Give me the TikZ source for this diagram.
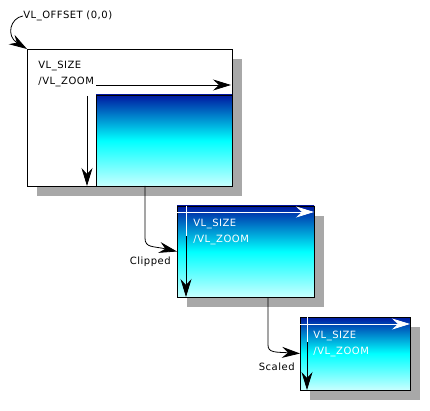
\documentclass[tikz,border=0pt]{standalone}
\usepackage{fontspec}
\setmainfont[LetterSpace=5]{DejaVu Sans}
\usetikzlibrary{arrows.meta,calc,shadows}
\definecolor{deepblue}{RGB}{0,24,160}
\definecolor{palecyan}{RGB}{200,255,255}
\definecolor{shadegray}{RGB}{168,168,168}
\tikzset{
	sheet/.style={draw,inner sep=0,outer sep=0,drop shadow={shadow xshift=10pt,shadow yshift=-10pt,opacity=1,fill=shadegray,draw=none}},
	blank/.style={sheet,fill=white},
	grad/.style={draw,inner sep=0,outer sep=0,top color=deepblue,bottom color=palecyan,middle color=cyan},
	gradsheet/.style={sheet,top color=deepblue,bottom color=palecyan,middle color=cyan},
	caption/.style={inner sep=0,align=left,font=\fontsize{10}{15.5}\selectfont},
	bigtip/.style={-{Stealth[length=18pt,width=11pt,inset=6pt]}},
	conn/.style={bigtip,color=black}
}
\begin{document}
\begin{tikzpicture}[x=1pt,y=-1pt,line width=0.8pt]
	\useasboundingbox (0,0) rectangle (430,411);
	%%% full image with offset
	\node[blank,minimum width=205pt,minimum height=137pt,anchor=north west] (frame) at (27,49) {};
	\node[grad,minimum width=136pt,minimum height=91pt,anchor=south east] (view) at (frame.south east) {};
	\node[caption,anchor=north west] (size1) at (38,61) {VL\_SIZE\\/VL\_ZOOM};
	\node[caption,anchor=west] (offset) at (23,16) {VL\_OFFSET (0,0)};
	\draw[conn] (offset.west) .. controls (10,18) and (6,36) .. (frame.north west);
	\draw[bigtip] ($(view.north west)+(0,-10)$) -- ($(view.north east)+(-1,-10)$);
	\draw[bigtip] ($(view.north west)+(-9,1)$) -- ($(view.south west)+(-9,0)$);
	
	%%% clipped
	\node[gradsheet,minimum width=137pt,minimum height=91pt,anchor=north west] (clip) at (177,206) {};
	\node[caption,anchor=north west,white] (size2) at (193,219) {VL\_SIZE\\/VL\_ZOOM};
	\draw[white,bigtip] ($(clip.north west)+(0,6)$) -- ($(clip.north east)+(0,6)$);
	\draw[white] ($(clip.north west)+(9,0)$) -- ($(clip.north west)+(9,30)$);
	\draw[bigtip] ($(clip.north west)+(9,30)$) -- ($(clip.south west)+(9,0)$);
	\coordinate (clipfrom) at ($(frame.south west)+(118,0)$);
	\draw[conn] (clipfrom) -- ($(clipfrom)+(0,52)$) .. controls ($(clipfrom)+(0,62)$) and ($(clipfrom)+(8,60)$) .. (clip.west);
	\node[caption,anchor=north east] (cliplabel) at ($(clip.west)+(-6,5)$) {Clipped};
	
	%%% scaled
	\node[gradsheet,minimum width=110pt,minimum height=73pt,anchor=north west] (scaled) at (300,317) {};
	\node[caption,anchor=north west,white] (size3) at (313,331) {VL\_SIZE\\/VL\_ZOOM};
	\draw[white,bigtip] ($(scaled.north west)+(0,7)$) -- ($(scaled.north east)+(0,7)$);
	\draw[white] ($(scaled.north west)+(7,0)$) -- ($(scaled.north west)+(7,25)$);
	\draw[bigtip] ($(scaled.north west)+(7,25)$) -- ($(scaled.south west)+(7,0)$);
	\coordinate (scalefrom) at ($(clip.south west)+(91,0)$);
	\draw[conn] (scalefrom) -- ($(scalefrom)+(0,48)$) .. controls ($(scalefrom)+(0,56)$) and ($(scalefrom)+(8,55)$) .. (scaled.west);
	\node[caption,anchor=north east] (scalelabel) at ($(scaled.west)+(-5,9)$) {Scaled};
\end{tikzpicture}
\end{document}
